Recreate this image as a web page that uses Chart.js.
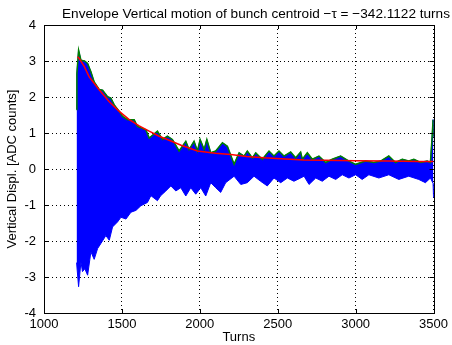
<!DOCTYPE html>
<html>
<head>
<meta charset="utf-8">
<script src="https://cdn.jsdelivr.net/npm/chart.js@4/dist/chart.umd.min.js"></script>
<style>
html, body { margin: 0; padding: 0; background: #fff; }
#wrap { width: 452px; height: 345px; }
</style>
</head>
<body>
<div id="wrap"><canvas id="env-chart" width="452" height="345"></canvas></div>
<script>
// upper envelope of the bunch signal (green line, top of blue band)
const upperTurns = [1209, 1211, 1222, 1237, 1260, 1280, 1301, 1322, 1354, 1376, 1408, 1429, 1451, 1483, 1504, 1536, 1579, 1600, 1654, 1675, 1728, 1760, 1792, 1824, 1867, 1910, 1931, 1963, 1985, 2002, 2028, 2045, 2070, 2102, 2145, 2177, 2220, 2252, 2284, 2305, 2337, 2359, 2401, 2444, 2476, 2508, 2540, 2583, 2615, 2647, 2658, 2690, 2722, 2765, 2808, 2850, 2904, 2957, 3000, 3064, 3117, 3160, 3213, 3256, 3299, 3341, 3374, 3417, 3459, 3480, 3491, 3497, 3500];
const upperDispl = [1.65, 2.65, 3.30, 3.02, 3.00, 2.93, 2.70, 2.42, 2.21, 2.19, 2.01, 1.97, 1.78, 1.60, 1.46, 1.37, 1.37, 1.18, 1.09, 0.86, 1.05, 0.82, 0.91, 0.82, 0.50, 0.77, 0.54, 0.77, 0.50, 0.82, 0.54, 0.82, 0.45, 0.50, 0.73, 0.63, 0.13, 0.45, 0.36, 0.50, 0.31, 0.45, 0.27, 0.50, 0.36, 0.50, 0.36, 0.47, 0.31, 0.47, 0.27, 0.45, 0.27, 0.36, 0.18, 0.27, 0.36, 0.22, 0.13, 0.22, 0.18, 0.22, 0.36, 0.18, 0.27, 0.22, 0.27, 0.18, 0.22, 0.18, 0.91, 1.37, 0.90];

// lower envelope of the bunch signal (bottom of blue band)
const lowerTurns = [1209, 1222, 1237, 1247, 1262, 1280, 1301, 1322, 1344, 1365, 1397, 1419, 1440, 1472, 1494, 1526, 1558, 1590, 1622, 1664, 1686, 1728, 1749, 1782, 1814, 1846, 1878, 1910, 1942, 1974, 2006, 2038, 2070, 2102, 2134, 2166, 2220, 2263, 2305, 2348, 2390, 2433, 2476, 2519, 2562, 2604, 2647, 2669, 2701, 2744, 2786, 2829, 2872, 2914, 2957, 3000, 3042, 3085, 3149, 3213, 3277, 3341, 3405, 3448, 3480, 3497, 3500];
const lowerDispl = [-2.60, -3.27, -2.58, -2.85, -2.77, -2.95, -2.30, -2.51, -2.21, -2.07, -1.85, -1.98, -1.61, -1.47, -1.34, -1.39, -1.20, -1.15, -1.02, -0.93, -0.74, -0.88, -0.74, -0.61, -0.47, -0.61, -0.52, -0.75, -0.52, -0.70, -0.52, -0.75, -0.38, -0.52, -0.65, -0.38, -0.20, -0.43, -0.38, -0.20, -0.34, -0.47, -0.25, -0.38, -0.25, -0.34, -0.25, -0.20, -0.43, -0.25, -0.34, -0.20, -0.29, -0.16, -0.25, -0.16, -0.29, -0.16, -0.25, -0.16, -0.29, -0.20, -0.29, -0.38, -0.25, -0.40, -0.79];

// exponential fit (red)
const fitTurns = [1215, 1226, 1258, 1290, 1354, 1419, 1483, 1547, 1611, 1675, 1739, 1803, 1880, 1985, 2100, 2199, 2300, 2412, 2550, 2668, 2800, 3000, 3200, 3400, 3500];
const fitDispl = [3.12, 3.07, 2.85, 2.56, 2.20, 1.87, 1.60, 1.37, 1.20, 1.05, 0.91, 0.80, 0.66, 0.50, 0.44, 0.40, 0.35, 0.31, 0.28, 0.25, 0.24, 0.23, 0.22, 0.21, 0.21];

const titleText = 'Envelope Vertical motion of bunch centroid \u2212\u03c4 = \u2212342.1122 turns';
const fontFamily = '"Liberation Sans", Arial, Helvetica, sans-serif';

function pts(xs, ys) {
    return xs.map((x, i) => ({ x: x, y: ys[i] }));
}

// box, inward ticks and title like the matlab figure
const matlabFrame = {
    id: 'matlabFrame',
    afterDraw(chart) {
        const ctx = chart.ctx;
        const a = chart.chartArea;
        const xs = chart.scales.x, ys = chart.scales.y;
        ctx.save();
        ctx.strokeStyle = '#000';
        ctx.lineWidth = 1;
        ctx.strokeRect(Math.round(a.left) + 0.5, Math.round(a.top) + 0.5, Math.round(a.right - a.left), Math.round(a.bottom - a.top));
        ctx.beginPath();
        xs.ticks.forEach(t => {
            const px = Math.round(xs.getPixelForValue(t.value)) + 0.5;
            ctx.moveTo(px, a.bottom); ctx.lineTo(px, a.bottom - 4);
            ctx.moveTo(px, a.top); ctx.lineTo(px, a.top + 4);
        });
        ys.ticks.forEach(t => {
            const py = Math.round(ys.getPixelForValue(t.value)) + 0.5;
            ctx.moveTo(a.left, py); ctx.lineTo(a.left + 4, py);
            ctx.moveTo(a.right, py); ctx.lineTo(a.right - 4, py);
        });
        ctx.stroke();
        ctx.fillStyle = '#000';
        ctx.font = '13.6px ' + fontFamily;
        ctx.textAlign = 'center';
        ctx.textBaseline = 'alphabetic';
        ctx.fillText(titleText, 256, 18);
        ctx.restore();
    }
};//matlabFrame

const data = {
    datasets: [
        { label: 'fit', data: pts(fitTurns, fitDispl), borderColor: '#ff0000', borderWidth: 1.5, fill: false, order: 0 },
        { label: 'envelope', data: pts(upperTurns, upperDispl), borderColor: '#008000', borderWidth: 1.5, fill: false, order: 1 },
        { label: 'signal top', data: pts(upperTurns, upperDispl), borderColor: '#0000ff', borderWidth: 1, fill: false, order: 2 },
        { label: 'signal bottom', data: pts(lowerTurns, lowerDispl), borderColor: '#0000ff', backgroundColor: '#0000ff', borderWidth: 1, fill: 2, order: 3 }
    ]
};//data

const config = {
    type: 'line',
    data: data,
    options: {
        responsive: false,
        devicePixelRatio: 1,
        animation: false,
        layout: { padding: { top: 25, right: 16, bottom: 0, left: 0 } },
        elements: { point: { radius: 0 }, line: { tension: 0 } },
        plugins: { legend: { display: false }, tooltip: { enabled: false } },
        scales: {
            x: {
                type: 'linear', min: 1000, max: 3500,
                ticks: { stepSize: 500, color: '#000', padding: 4, maxRotation: 0, font: { family: fontFamily, size: 13 }, callback: v => String(v) },
                grid: { color: '#000', lineWidth: 1, drawTicks: false },
                border: { display: false, dash: [1, 3] },
                title: { display: true, text: 'Turns', color: '#000', padding: 0, font: { family: fontFamily, size: 13 } },
                afterFit: s => { s.height = 32; }
            },
            y: {
                min: -4, max: 4,
                ticks: { stepSize: 1, color: '#000', padding: 8, font: { family: fontFamily, size: 13 }, callback: v => String(v) },
                grid: { color: '#000', lineWidth: 1, drawTicks: false },
                border: { display: false, dash: [1, 3] },
                title: { display: true, text: 'Vertical Displ. [ADC counts]', color: '#000', padding: { top: 5, bottom: 0 }, font: { family: fontFamily, size: 13 } },
                afterFit: s => { s.width = 44; }
            }
        }
    },
    plugins: [matlabFrame]
};//config

const myChart = new Chart(document.getElementById('env-chart'), config);
</script>
</body>
</html>
